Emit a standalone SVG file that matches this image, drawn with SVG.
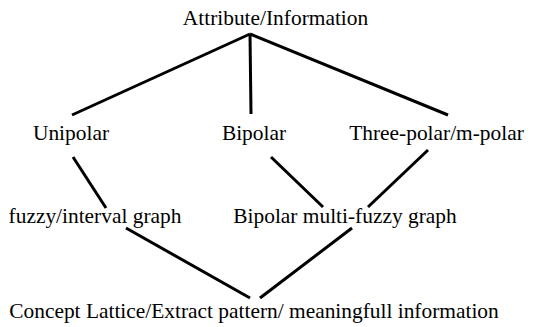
<svg xmlns="http://www.w3.org/2000/svg" width="539" height="327" viewBox="0 0 539 327">
<style>
text{font-family:"Liberation Serif","Times New Roman",serif;font-size:21.4px;fill:#000;text-anchor:middle}
.e line{stroke:#000;stroke-width:3}
</style>
<rect width="539" height="327" fill="#fff"/>
<g class="e" id="connectors">
<line x1="250" y1="34" x2="72" y2="115"/>
<line x1="250" y1="34" x2="251" y2="114"/>
<line x1="250" y1="34" x2="448" y2="115"/>
<line x1="73" y1="157" x2="106" y2="208"/>
<line x1="271" y1="157" x2="323" y2="207"/>
<line x1="428" y1="150" x2="368" y2="207"/>
<line x1="126" y1="228" x2="250" y2="298"/>
<line x1="352" y1="228" x2="260" y2="298"/>
</g>
<g id="n1"><text x="275.5" y="25">Attribute/Information</text></g>
<g id="n2"><text x="71" y="140">Unipolar</text></g>
<g id="n3"><text x="254" y="140">Bipolar</text></g>
<g id="n4"><text x="436.5" y="140">Three-polar/m-polar</text></g>
<g id="n5"><text x="95" y="223">fuzzy/interval graph</text></g>
<g id="n6"><text x="345" y="223">Bipolar multi-fuzzy graph</text></g>
<g id="n7"><text x="254" y="318">Concept Lattice/Extract pattern/ meaningfull information</text></g>
</svg>
